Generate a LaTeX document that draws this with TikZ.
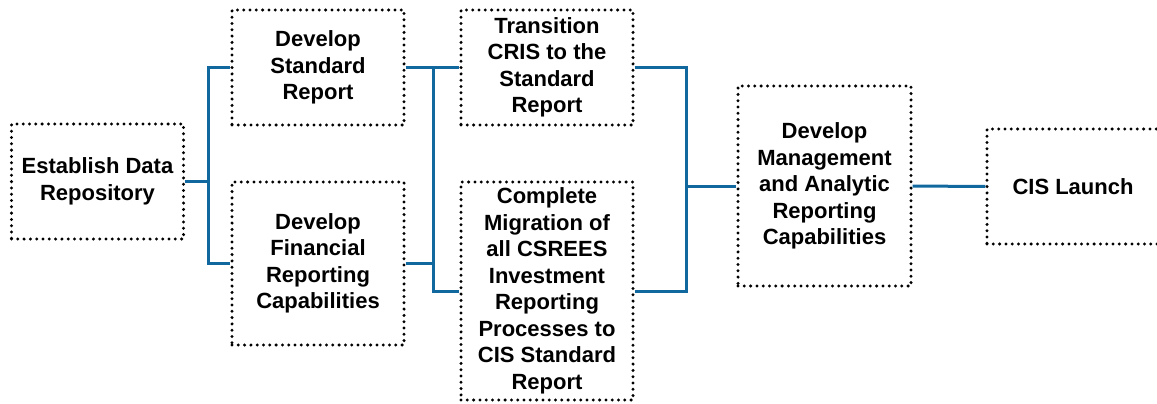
\documentclass[tikz,border=0pt]{standalone}
\usepackage{fontspec}
\setmainfont{Liberation Sans}
\definecolor{linkblue}{RGB}{16,104,158}
\tikzset{
  task/.style={draw, line width=3.3pt, line cap=round, dash pattern=on 0pt off 6.3pt,
    align=center, inner sep=0pt, minimum width=172pt,
    font=\bfseries\fontsize{22}{26.5}\selectfont},
  link/.style={linkblue, line width=3pt}
}
\begin{document}
\begin{tikzpicture}[x=1pt,y=-1pt]
			\useasboundingbox (0,0) rectangle (1157,404);
			\clip (0,0) rectangle (1157,404);
			% tasks
			\node[task,minimum height=115pt] (repo) at (97.5,181.5) {Establish Data\\Repository};
			\node[task,minimum height=115pt] (stdrep) at (318,67.5) {Develop\\Standard\\Report};
			\node[task,minimum height=163pt] (finrep) at (318,263.5) {Develop\\Financial\\Reporting\\Capabilities};
			\node[task,minimum height=115pt] (cris) at (547,67.5) {Transition\\CRIS to the\\Standard\\Report};
			\node[task,minimum height=218pt] (migr) at (547,291) {Complete\\Migration of\\all CSREES\\Investment\\Reporting\\Processes to\\CIS Standard\\Report};
			\node[task,minimum width=173pt,minimum height=200pt] (mgmt) at (824.5,186) {Develop\\Management\\and Analytic\\Reporting\\Capabilities};
			\node[task,minimum height=115pt] (launch) at (1073,186.5) {CIS Launch};
			% buses
			\coordinate (bus1) at (208,0);
			\coordinate (bus2) at (433,0);
			\coordinate (bus3) at (686,0);
			\draw[link] (repo.east) -- (repo.east -| bus1);
			\draw[link] (stdrep.west) -- (stdrep.west -| bus1) -- (finrep.west -| bus1) -- (finrep.west);
			\draw[link] (stdrep.east) -- (stdrep.east -| bus2);
			\draw[link] (finrep.east) -- (finrep.east -| bus2);
			\draw[link] (cris.west) -- (cris.west -| bus2) -- (migr.west -| bus2) -- (migr.west);
			\draw[link] (cris.east) -- (cris.east -| bus3) -- (migr.east -| bus3) -- (migr.east);
			\draw[link] (mgmt.west) -- (mgmt.west -| bus3);
			\draw[link] (mgmt) -- (launch);
		\end{tikzpicture}
\end{document}
